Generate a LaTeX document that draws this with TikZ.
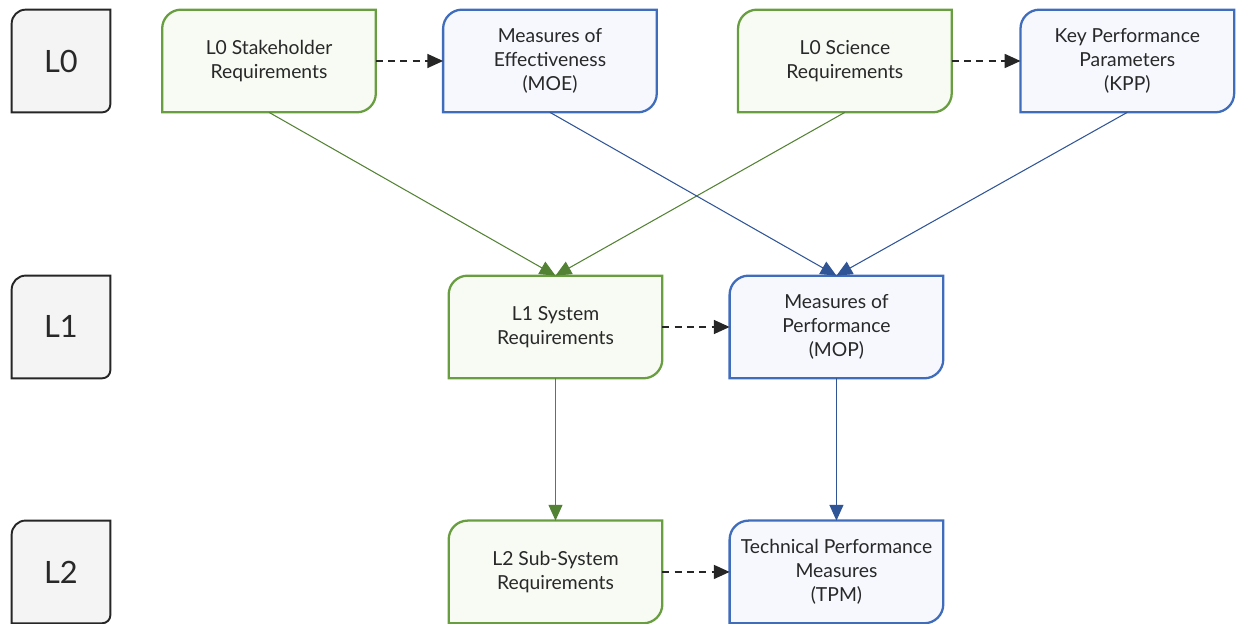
\documentclass[tikz,border=0pt]{standalone}
\usepackage{fontspec}
\setmainfont{Lato}
\usetikzlibrary{arrows.meta,backgrounds}

\definecolor{grnbd}{RGB}{104,158,64}
\definecolor{grnbg}{RGB}{247,251,243}
\definecolor{grnln}{RGB}{84,130,53}
\definecolor{blubd}{RGB}{64,108,188}
\definecolor{blubg}{RGB}{246,248,254}
\definecolor{bluln}{RGB}{47,85,151}
\definecolor{lvlbg}{RGB}{244,244,244}
\definecolor{txt}{RGB}{40,40,40}

\tikzset{
  req/.style={minimum width=4.26cm,minimum height=2.04cm,align=center,
    text=txt,font=\fontsize{11}{13.6}\selectfont},
  lvl/.style={minimum width=1.96cm,minimum height=2.04cm,text=txt,
    font=\fontsize{17.5}{20}\selectfont},
  trace/.style={-{Triangle[length=9pt,width=8pt]},line width=0.6pt},
  link/.style={-{Triangle[length=9pt,width=8pt]},dashed,
    dash pattern=on 4pt off 3pt,line width=0.8pt,black!85}
}

\begin{document}
\begin{tikzpicture}[x=0.02cm,y=-0.02cm]
  \useasboundingbox (0,0) rectangle (1238,624);

  % level column
  \node[lvl] (l0) at (61,61) {L0};
  \node[lvl,below of=l0,yshift=-4.32cm] (l1) {L1};
  \node[lvl,below of=l1,yshift=-3.9cm] (l2) {L2};

  % requirements and measures
  \node[req] (stake) at (269,61) {L0 Stakeholder\\Requirements};
  \node[req,right of=stake,xshift=4.62cm] (moe) {Measures of\\Effectiveness\\(MOE)};
  \node[req,right of=moe,xshift=4.9cm] (sci) {L0 Science\\Requirements};
  \node[req,right of=sci,xshift=4.65cm] (kpp) {Key Performance\\Parameters\\(KPP)};
  \node[req] (sys) at (555.5,327) {L1 System\\Requirements};
  \node[req,right of=sys,xshift=4.62cm] (mop) {Measures of\\Performance\\(MOP)};
  \node[req,below of=sys,yshift=-3.9cm] (sub) {L2 Sub-System\\Requirements};
  \node[req,below of=mop,yshift=-3.9cm] (tpm) {Technical Performance\\Measures\\(TPM)};

  % box outlines
  \begin{scope}[on background layer]
    \foreach \n/\bd/\bg in {stake/grnbd/grnbg,sci/grnbd/grnbg,sys/grnbd/grnbg,sub/grnbd/grnbg,
                            moe/blubd/blubg,kpp/blubd/blubg,mop/blubd/blubg,tpm/blubd/blubg}
      \draw[draw=\bd,fill=\bg,line width=1.3pt] (\n.north east) -- ([xshift=0.38cm]\n.north west)
        arc[start angle=90,end angle=180,radius=0.38cm] -- (\n.south west)
        -- ([xshift=-0.38cm]\n.south east) arc[start angle=270,end angle=360,radius=0.38cm]
        -- cycle;
    \foreach \n in {l0,l1,l2}
      \draw[draw=black!85,fill=lvlbg,line width=1.1pt] (\n.north east) -- ([xshift=0.28cm]\n.north west)
        arc[start angle=90,end angle=180,radius=0.28cm] -- (\n.south west)
        -- ([xshift=-0.16cm]\n.south east) arc[start angle=270,end angle=360,radius=0.16cm]
        -- cycle;
  \end{scope}

  \draw[link] (stake) -- (moe);
  \draw[link] (sci) -- (kpp);
  \draw[link] (sys) -- (mop);
  \draw[link] (sub) -- (tpm);

  \draw[trace,grnln] (stake.south) -- (sys.north);
  \draw[trace,grnln] (sci.south) -- (sys.north);
  \draw[trace,bluln] (moe.south) -- (mop.north);
  \draw[trace,bluln] (kpp.south) -- (mop.north);
  \draw[trace,grnln] (sys) -- (sub);
  \draw[trace,bluln] (mop) -- (tpm);
\end{tikzpicture}
\end{document}
